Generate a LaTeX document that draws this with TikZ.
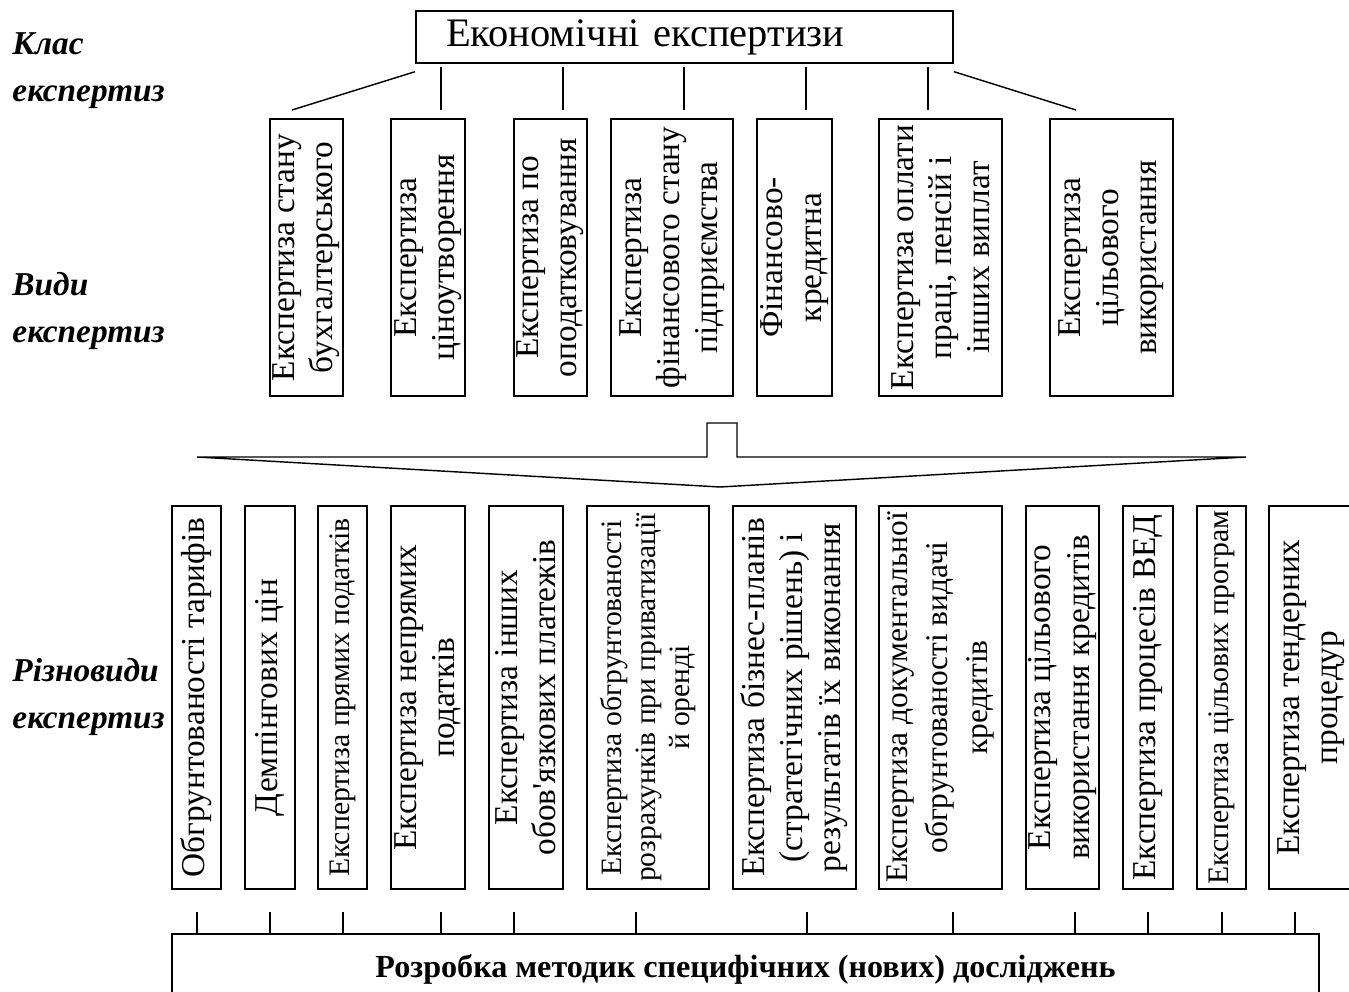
\documentclass[tikz,border=0pt]{standalone}
\usepackage{fontspec}
\setmainfont{Liberation Serif}
\newcommand{\fsz}[2]{\fontsize{#1}{#2}\selectfont}
\tikzset{
  lbl/.style={anchor=west, align=left, inner sep=0pt, font=\bfseries\itshape\fsz{14}{19.7}},
  klas/.style={draw, line width=0.8pt},
  vbox/.style={draw, line width=0.8pt, rotate=90, align=center, inner sep=0pt, font=\fsz{14}{16}},
  dims/.style 2 args={minimum height=#1*0.42pt, minimum width=#2*0.42pt},
  link/.style={line width=0.6pt},
}
\begin{document}
\begin{tikzpicture}[x=0.42pt, y=-0.42pt]
\useasboundingbox (0,0) rectangle (1349,992);
\clip (0,0) rectangle (1349,992);
%% labels on the left
\node[lbl] (lklas) at (12,71) {Клас\\експертиз};
\node[lbl] (lvydy) at (12,311) {Види\\експертиз};
\node[lbl] (lrizn) at (12,697) {Різновиди\\експертиз};
%% class
\node[klas, minimum width=537*0.42pt, minimum height=45*0.42pt, inner xsep=12.6pt,
  text width=200.3pt, align=left, font=\fsz{17}{18}] (eco) at (684.5,37) {Економічні експертизи};
\draw[link] ([yshift=-3.4pt]eco.south west) -- (292,110);
\draw[link] ([yshift=-3.4pt]eco.south east) -- (1076,110);
\foreach \x in {441,563,684,806,928}
  \draw[link] (\x,67) -- (\x,110);
%% kinds
\node[vbox, dims={73}{277}] (v1) at (306.5,257.5) {Експертиза стану\\бухгалтерського};
\node[vbox, dims={74}{277}] (v2) at (428,257.5) {Експертиза\\ціноутворення};
\node[vbox, dims={73}{277}] (v3) at (550.5,257.5) {Експертиза по\\оподатковування};
\node[vbox, dims={122}{277}] (v4) at (672,257.5) {Експертиза\\фінансового стану\\підприємства};
\node[vbox, dims={75}{277}] (v5) at (794.5,257.5) {Фінансово-\\кредитна};
\node[vbox, dims={123}{277}] (v6) at (940.5,257.5) {Експертиза оплати\\праці, пенсій і\\інших виплат};
\node[vbox, dims={123}{277}] (v7) at (1111.5,257.5) {Експертиза\\цільового\\використання};
%% joint
\draw[link] (197,457) -- (707,457) -- (707,423) -- (737,423) -- (737,457)
  -- (1246,457) -- (720,487) -- cycle;
%% varieties
\node[vbox, dims={49}{383}] (b1) at (196.5,697.5) {Обгрунтованості тарифів};
\node[vbox, dims={50}{383}] (b2) at (270,697.5) {Демпінгових цін};
\node[vbox, dims={49}{383}, font=\fsz{12.5}{14}] (b3) at (342.5,697.5) {Експертиза прямих податків};
\node[vbox, dims={74}{383}] (b4) at (428,697.5) {Експертиза непрямих\\податків};
\node[vbox, dims={74}{383}] (b5) at (526,697.5) {Експертиза інших\\обов\textquotesingle язкових платежів};
\node[vbox, dims={122}{383}, font=\fsz{12.4}{14.3}] (b6) at (648,697.5) {Експертиза обгрунтованості\\розрахунків при приватизації\\й оренді};
\node[vbox, dims={123}{383}] (b7) at (794.5,697.5) {Експертиза бізнес-планів\\(стратегічних рішень) і\\результатів їх виконання};
\node[vbox, dims={123}{383}, font=\fsz{13.2}{16.8}] (b8) at (940.5,697.5) {Експертиза документальної\\обгрунтованості видачі\\кредитів};
\node[vbox, dims={73}{383}] (b9) at (1062.5,697.5) {Експертиза цільового\\використання кредитів};
\node[vbox, dims={50}{383}] (b10) at (1148,697.5) {Експертиза процесів ВЕД};
\node[vbox, dims={49}{383}, font=\fsz{12.5}{14}] (b11) at (1221.5,697.5) {Експертиза цільових програм};
\node[vbox, dims={85}{383}] (b12) at (1311.5,697.5) {Експертиза тендерних\\процедур};
%% development of methods
\node[klas, minimum width=1147*0.42pt, minimum height=70*0.42pt,
  font=\bfseries\fsz{13.5}{16}] (dev) at (745.5,969) {Розробка методик специфічних (нових) досліджень};
\foreach \x in {197,270,343,441,514,636,807,953,1075,1148,1222,1295}
  \draw[link] (\x,912) -- (dev.north -| \x,0);
%
\end{tikzpicture}
\end{document}
